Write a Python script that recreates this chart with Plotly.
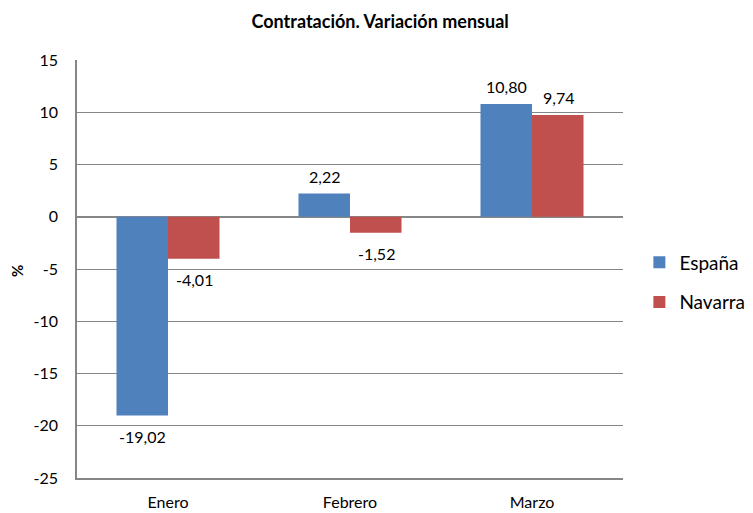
import plotly.graph_objects as go

meses = ["Enero", "Febrero", "Marzo"]
espana = [-19.02, 2.22, 10.80]
navarra = [-4.01, -1.52, 9.74]
yticks = [-25, -20, -15, -10, -5, 0, 5, 10, 15]

def fmt(v):
    return f"{v:.2f}".replace(".", ",")

fig = go.Figure()
fig.add_bar(x=meses, y=espana, name="España", marker_color="#4F81BD", legendgroup="a")
fig.add_bar(x=meses, y=navarra, name="Navarra", marker_color="#C0504D", legendgroup="b")
fig.update_traces(marker_line_width=0)

# value labels, offset like the original (a bit away from the bar end)
for serie, shift in ((espana, -26), (navarra, 26)):
    for m, v in zip(meses, serie):
        fig.add_annotation(x=m, y=v, xshift=shift, yshift=17 if v > 0 else -21,
                           text=fmt(v), showarrow=False, font=dict(size=16))

fig.add_annotation(text="<b>%</b>", xref="paper", yref="paper", x=-0.11, y=0.495,
                   xanchor="center", yanchor="middle",
                   textangle=-90, showarrow=False, font=dict(size=15))

# page body has an 8px margin, so the figure is a bit smaller than the window
fig.update_layout(
    width=745, height=505,
    font=dict(family="Lato, Open Sans, sans-serif", color="black"),
    title=dict(text="<b>Contratación. Variación mensual</b>", x=0.4995, xanchor="center",
               y=0.972, yanchor="middle", font=dict(size=18)),
    barmode="group", bargap=0.434, bargroupgap=0,
    plot_bgcolor="white", paper_bgcolor="white",
    margin=dict(l=69, r=130, t=52, b=35, autoexpand=False),
    showlegend=True,
    legend=dict(x=1.03, y=0.468, xanchor="left", yanchor="middle", font=dict(size=19),
                tracegroupgap=12, traceorder="grouped", itemwidth=30),
)
fig.update_yaxes(range=[-25, 15], tickvals=yticks, ticktext=[str(t) for t in yticks],
                 showgrid=True, gridcolor="#868686", gridwidth=1,
                 showline=True, linecolor="#868686", linewidth=1.5, zeroline=True,
                 zerolinecolor="#868686", zerolinewidth=2, tickfont=dict(size=16),
                 ticks="", ticklabelstandoff=14, automargin=False)
fig.update_xaxes(showline=True, linecolor="#868686", linewidth=1.5, tickfont=dict(size=16),
                 ticks="", ticklabelstandoff=9, showgrid=False, automargin=False)

fig.write_html("out.html")
